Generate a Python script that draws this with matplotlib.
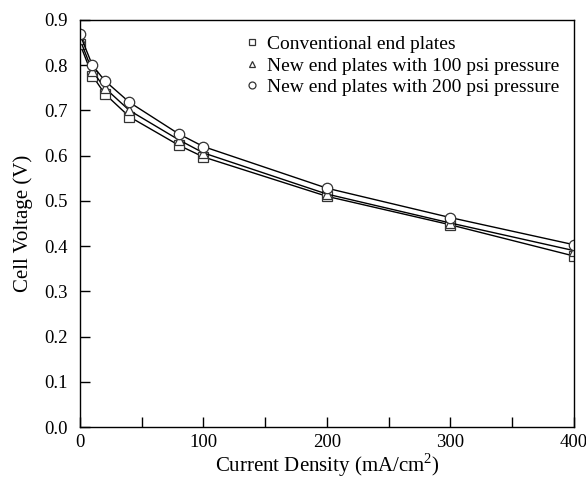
import numpy as np
import matplotlib.pyplot as plt

plt.rcParams['font.family'] = 'Liberation Serif'
plt.rcParams['mathtext.fontset'] = 'custom'
plt.rcParams['mathtext.rm'] = 'Liberation Serif'

current = [0, 10, 20, 40, 80, 100, 200, 300, 400]
v_conv = [0.847, 0.777, 0.737, 0.686, 0.623, 0.597, 0.510, 0.447, 0.378]
v_100 = [0.857, 0.787, 0.750, 0.700, 0.635, 0.606, 0.515, 0.451, 0.390]
v_200 = [0.868, 0.800, 0.766, 0.718, 0.648, 0.620, 0.528, 0.463, 0.403]
labels = ['Conventional end plates',
          'New end plates with 100 psi pressure',
          'New end plates with 200 psi pressure']

fig = plt.figure(figsize=(5.86, 4.8), dpi=100)
ax = fig.add_axes([0.1365, 0.1104, 0.843, 0.848])

ax.plot(current, v_conv, color='black', lw=1, marker='s', ms=7, mfc='white', mec='#333333', mew=0.9, label=labels[0])
ax.plot(current, v_100, color='black', lw=1, marker='^', ms=7.5, mfc='white', mec='#333333', mew=0.9, label=labels[1])
ax.plot(current, v_200, color='black', lw=1, marker='o', ms=7.5, mfc='white', mec='#333333', mew=0.9, label=labels[2])

ax.set_xlim(0, 400)
ax.set_ylim(0, 0.9)
ax.set_xticks([0, 100, 200, 300, 400])
ax.set_xticks(np.arange(0, 401, 50), minor=True)
ax.set_yticks(np.arange(0, 0.91, 0.1))
ax.set_yticklabels(['%.1f' % v for v in np.arange(0, 0.91, 0.1)])
ax.tick_params(which='both', direction='in', top=False, right=False, labelsize=13.5, width=1, length=7)
ax.tick_params(axis='y', pad=9)
ax.tick_params(axis='x', pad=5)
for s in ax.spines.values():
    s.set_linewidth(1)

ax.set_xlabel('Current Density (mA/cm$^{\\mathregular{2}}$)', fontsize=15, labelpad=0)
ax.set_ylabel('Cell Voltage (V)', fontsize=15, labelpad=8)

leg = ax.legend(loc='upper left', bbox_to_anchor=(0.298, 1.0), frameon=False, fontsize=14,
                handlelength=1, handletextpad=0.25, labelspacing=0.2, borderaxespad=0.4)
for h in leg.legend_handles:
    h.set_linestyle('none')
    h.set_markersize(5)

fig.savefig('out.png', dpi=100)
